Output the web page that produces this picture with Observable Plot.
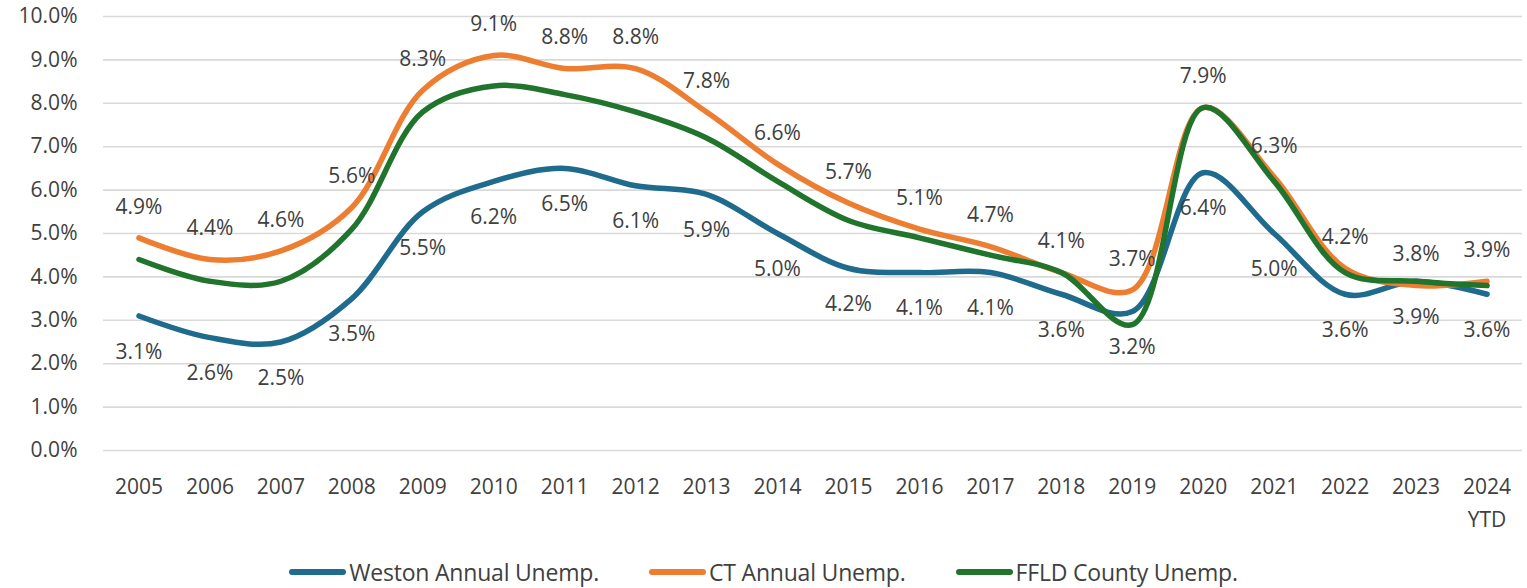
<!DOCTYPE html>
<html>
<head>
<meta charset="utf-8">
<script src="https://cdn.jsdelivr.net/npm/d3@7"></script>
<script src="https://cdn.jsdelivr.net/npm/@observablehq/plot@0.6"></script>
<style>
  html, body { margin: 0; padding: 0; background: #fff; }
  #chart { width: 1527px; height: 550px; }
  #legend {
    width: 1527px; height: 44px;
    display: flex; justify-content: center; align-items: center;
    font-family: "Open Sans", sans-serif; font-size: 23px; color: #404040;
    letter-spacing: -0.2px;
  }
  .item { display: flex; align-items: center; margin: 0 25px; }
  .sw { width: 57px; height: 6px; border-radius: 3px; margin-right: 3px; }
</style>
</head>
<body>
<div id="chart"></div>
<div id="legend"></div>
<script>
const years = ["2005","2006","2007","2008","2009","2010","2011","2012","2013","2014","2015","2016","2017","2018","2019","2020","2021","2022","2023","2024"];
const xLabels = ["2005","2006","2007","2008","2009","2010","2011","2012","2013","2014","2015","2016","2017","2018","2019","2020","2021","2022","2023","2024\nYTD"];
const weston = [3.1,2.6,2.5,3.5,5.5,6.2,6.5,6.1,5.9,5.0,4.2,4.1,4.1,3.6,3.2,6.4,5.0,3.6,3.9,3.6];
const ct     = [4.9,4.4,4.6,5.6,8.3,9.1,8.8,8.8,7.8,6.6,5.7,5.1,4.7,4.1,3.7,7.9,6.3,4.2,3.8,3.9];
const ffld   = [4.4,3.9,3.9,5.1,7.8,8.4,8.2,7.8,7.2,6.2,5.3,4.9,4.5,4.1,2.9,7.9,6.2,4.1,3.9,3.8];
const yTicks = [0,1,2,3,4,5,6,7,8,9,10];
const seriesNames = ["Weston Annual Unemp.", "CT Annual Unemp.", "FFLD County Unemp."];
const seriesColors = ["#1f6b8e", "#ed7d31", "#20742c"];

const rows = vals => years.map((y, i) => ({year: y, value: vals[i]}));
const W = rows(weston), C = rows(ct), F = rows(ffld);
const pct = d => d.value.toFixed(1) + "%";
const labelColor = "#404040";

const chart = Plot.plot({
  width: 1527, height: 550,
  marginLeft: 103, marginRight: 5, marginTop: 16, marginBottom: 100,
  x: {type: "point", domain: years, padding: 0.5, round: false, axis: null},
  y: {domain: [0, 10], axis: null},
  style: {fontFamily: "'Open Sans', sans-serif", fontSize: "21px", background: "#fff"},
  marks: [
    Plot.ruleY(yTicks, {stroke: "#d9d9d9", strokeWidth: 1.6}),
    Plot.axisY(yTicks, {label: null, tickSize: 0, tickPadding: 26, tickFormat: d => d.toFixed(1) + "%", fontSize: 21, fill: labelColor}),
    Plot.text(years, {x: d => d, text: (d, i) => xLabels[i], frameAnchor: "bottom", lineAnchor: "top", dy: 20, lineHeight: 1.57, fontSize: 21, fill: labelColor}),
    Plot.line(W, {x: "year", y: "value", curve: "catmull-rom", stroke: seriesColors[0], strokeWidth: 5.5}),
    Plot.line(C, {x: "year", y: "value", curve: "catmull-rom", stroke: seriesColors[1], strokeWidth: 5.5}),
    Plot.line(F, {x: "year", y: "value", curve: "catmull-rom", stroke: seriesColors[2], strokeWidth: 5.5}),
    Plot.text(W, {x: "year", y: "value", text: pct, dy: 36, fontSize: 21, fill: labelColor}),
    Plot.text(C, {x: "year", y: "value", text: pct, dy: -31, fontSize: 21, fill: labelColor})
  ]
});
document.getElementById("chart").appendChild(chart);

const legend = document.getElementById("legend");
seriesNames.forEach((name, i) => {
  const item = document.createElement("div");
  item.className = "item";
  const sw = document.createElement("span");
  sw.className = "sw";
  sw.style.background = seriesColors[i];
  const t = document.createElement("span");
  t.textContent = name;
  item.appendChild(sw);
  item.appendChild(t);
  legend.appendChild(item);
});
</script>
</body>
</html>
